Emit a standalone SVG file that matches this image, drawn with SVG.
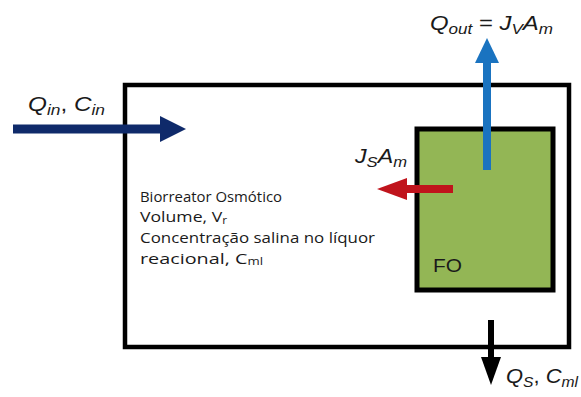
<svg xmlns="http://www.w3.org/2000/svg" width="581" height="397" viewBox="0 0 581 397">
<style>
.lbl{font-family:"Liberation Sans",Arial,sans-serif;font-size:21px;fill:#1a1a1a}
.it{font-style:italic}
.sub{font-size:15px;font-style:italic}
.body{font-family:"Open Sans","Noto Sans",sans-serif;font-size:15px;fill:#1a1a1a}
</style>
<rect width="581" height="397" fill="#ffffff"/>
<g id="reactor">
<rect x="125" y="85" width="444" height="262" fill="none" stroke="#000" stroke-width="4.5"/>
<text class="body" x="140" y="202" textLength="142" lengthAdjust="spacingAndGlyphs">Biorreator Osmótico</text>
<text class="body" x="140" y="222" textLength="87" lengthAdjust="spacingAndGlyphs">Volume, V<tspan font-size="10" dy="2">r</tspan></text>
<text class="body" x="140" y="243" textLength="235" lengthAdjust="spacingAndGlyphs">Concentração salina no líquor</text>
<text class="body" x="140" y="264" textLength="123" lengthAdjust="spacingAndGlyphs">reacional, C<tspan font-size="10" dy="1">ml</tspan></text>
</g>
<g id="fo">
<rect x="417" y="129" width="136" height="161" fill="#93b655" stroke="#000" stroke-width="5"/>
<text x="433" y="272" font-family="Liberation Sans,Arial,sans-serif" font-size="18" fill="#1a1a1a" textLength="29" lengthAdjust="spacingAndGlyphs">FO</text>
</g>
<g id="connectors">
<path d="M13 129 H161" stroke="#0f2a6a" stroke-width="9"/>
<path d="M160 116 L186 129 L160 142 Z" fill="#0f2a6a"/>
<path d="M487 170 V62" stroke="#1a73c0" stroke-width="8"/>
<path d="M475 63 L487 38 L499 63 Z" fill="#1a73c0"/>
<path d="M453 189 H406" stroke="#c0141c" stroke-width="8"/>
<path d="M407 178 L377 189 L407 200 Z" fill="#c0141c"/>
<path d="M491 320 V358" stroke="#000" stroke-width="6"/>
<path d="M481 357 L491 385 L501 357 Z" fill="#000"/>
</g>
<g id="labels">
<text class="lbl" x="28" y="111" textLength="77" lengthAdjust="spacingAndGlyphs"><tspan class="it">Q</tspan><tspan class="sub" dy="4">in</tspan><tspan dy="-4">, </tspan><tspan class="it">C</tspan><tspan class="sub" dy="4">in</tspan></text>
<text class="lbl" x="430" y="30" textLength="123" lengthAdjust="spacingAndGlyphs"><tspan class="it">Q</tspan><tspan class="sub" dy="4">out</tspan><tspan dy="-4"> = </tspan><tspan class="it">J</tspan><tspan class="sub" dy="4">V</tspan><tspan class="it" dy="-4">A</tspan><tspan class="sub" dy="4">m</tspan></text>
<text class="lbl" x="355" y="163" textLength="52" lengthAdjust="spacingAndGlyphs"><tspan class="it">J</tspan><tspan class="sub" dy="4">S</tspan><tspan class="it" dy="-4">A</tspan><tspan class="sub" dy="4">m</tspan></text>
<text class="lbl" x="506" y="383" textLength="72" lengthAdjust="spacingAndGlyphs"><tspan class="it">Q</tspan><tspan class="sub" dy="4">S</tspan><tspan dy="-4">, </tspan><tspan class="it">C</tspan><tspan class="sub" dy="4">ml</tspan></text>
</g>
</svg>
